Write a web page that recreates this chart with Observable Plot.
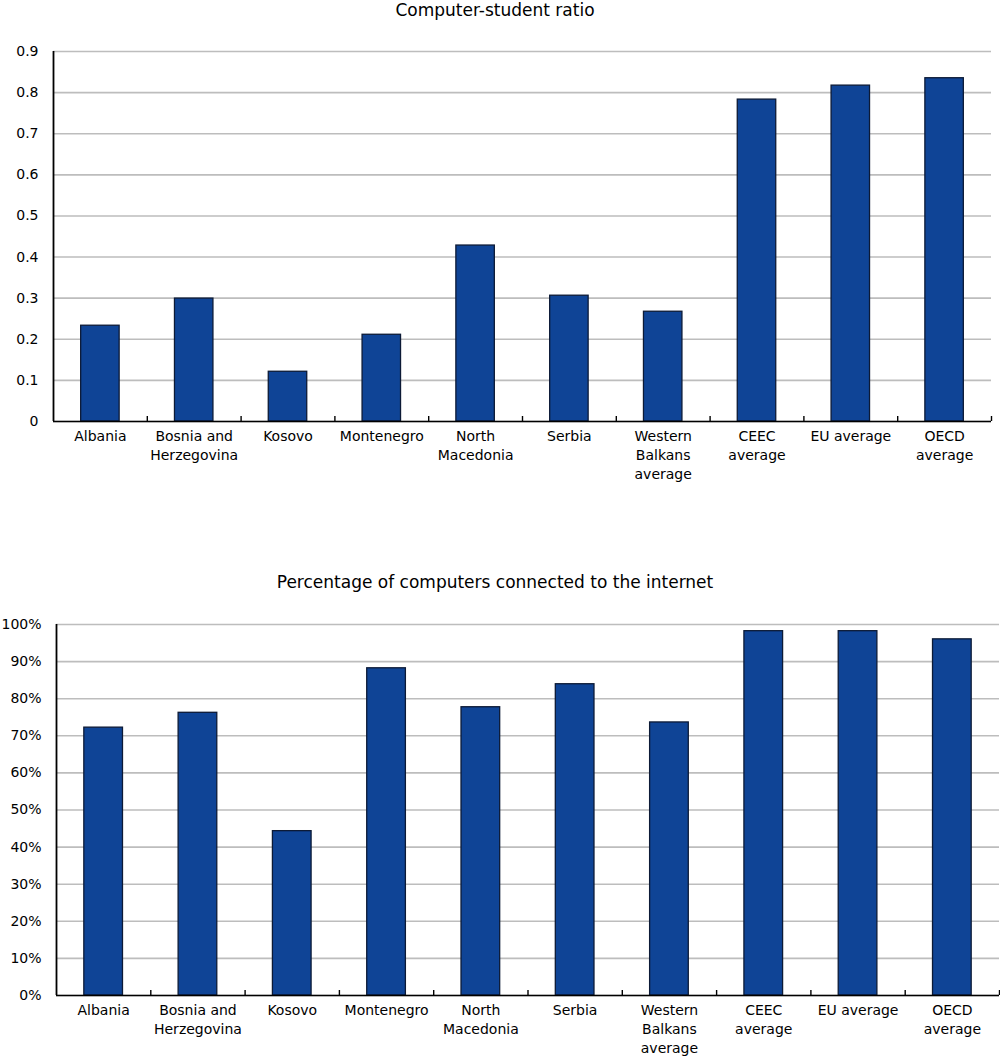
<!DOCTYPE html>
<html>
<head>
<meta charset="utf-8">
<script src="https://cdn.jsdelivr.net/npm/d3@7"></script>
<script src="https://cdn.jsdelivr.net/npm/@observablehq/plot@0.6"></script>
<style>
  body { margin: 0; background: #fff; font-family: "DejaVu Sans", Verdana, sans-serif; }
  .title { width: 990px; text-align: center; font-size: 17px; line-height: 20px; height: 20px; color: #000; }
  #t2 { padding-top: 12px; }
  svg { display: block; }
</style>
</head>
<body>
<div class="title" id="t1">Computer-student ratio</div>
<div id="c1"></div>
<div class="title" id="t2">Percentage of computers connected to the internet</div>
<div id="c2"></div>
<script>
const categories = ["Albania", "Bosnia and Herzegovina", "Kosovo", "Montenegro", "North Macedonia",
  "Serbia", "Western Balkans average", "CEEC average", "EU average", "OECD average"];
const tickLabels = ["Albania", "Bosnia and\nHerzegovina", "Kosovo", "Montenegro", "North\nMacedonia",
  "Serbia", "Western\nBalkans\naverage", "CEEC\naverage", "EU average", "OECD\naverage"];
const computerStudentRatio = [0.233, 0.299, 0.121, 0.211, 0.428, 0.306, 0.267, 0.783, 0.817, 0.835];
const internetShare = [0.722, 0.762, 0.443, 0.882, 0.777, 0.839, 0.736, 0.982, 0.982, 0.960];
const ratioTicks = [0, 0.1, 0.2, 0.3, 0.4, 0.5, 0.6, 0.7, 0.8, 0.9];
const pctTicks = [0, 0.1, 0.2, 0.3, 0.4, 0.5, 0.6, 0.7, 0.8, 0.9, 1.0];

const labelOf = new Map(categories.map((c, i) => [c, tickLabels[i]]));

function makeChart({values, domain, ticks, fmt, height, marginTop, marginBottom, marginLeft, marginRight}) {
  const width = 1000;
  const data = categories.map((c, i) => ({category: c, value: values[i]}));
  const step = (width - marginLeft - marginRight) / categories.length;
  return Plot.plot({
    width, height, marginTop, marginBottom, marginLeft, marginRight,
    style: {fontFamily: "'DejaVu Sans', Verdana, sans-serif", fontSize: "14px", color: "#000", background: "#fff"},
    x: {domain: categories, paddingInner: 0.59, paddingOuter: 0.295, round: false, label: null},
    y: {domain, label: null},
    marks: [
      Plot.gridY(ticks, {stroke: "#bdbdbd", strokeOpacity: 1, strokeWidth: 1.6}),
      Plot.barY(data, {x: "category", y: "value", fill: "#0f4496", stroke: "#0c1a36", strokeWidth: 1.3}),
      Plot.ruleY([0], {stroke: "#000", strokeWidth: 1.6}),
      Plot.ruleX([categories[0]], {y1: domain[0], y2: domain[1], dx: -step / 2, stroke: "#000", strokeWidth: 1.8}),
      Plot.ruleX(categories, {y1: 0, y2: 0, insetTop: -5, dx: step / 2, stroke: "#000", strokeWidth: 1.4}),
      Plot.axisY(ticks, {tickSize: 0, tickPadding: 15, tickFormat: fmt, fontSize: 14}),
      Plot.axisX({tickSize: 0, tickPadding: 6, tickFormat: d => labelOf.get(d), lineHeight: 1.36, fontSize: 14})
    ]
  });
}

document.getElementById("c1").appendChild(makeChart({
  values: computerStudentRatio, domain: [0, 0.9], ticks: ratioTicks,
  fmt: d => d === 0 ? "0" : d3.format(".1f")(d),
  height: 540, marginTop: 31, marginBottom: 139, marginLeft: 53, marginRight: 9
}));
document.getElementById("c2").appendChild(makeChart({
  values: internetShare, domain: [0, 1], ticks: pctTicks,
  fmt: d3.format(".0%"),
  height: 466, marginTop: 32, marginBottom: 63, marginLeft: 56, marginRight: 1
}));
</script>
</body>
</html>
